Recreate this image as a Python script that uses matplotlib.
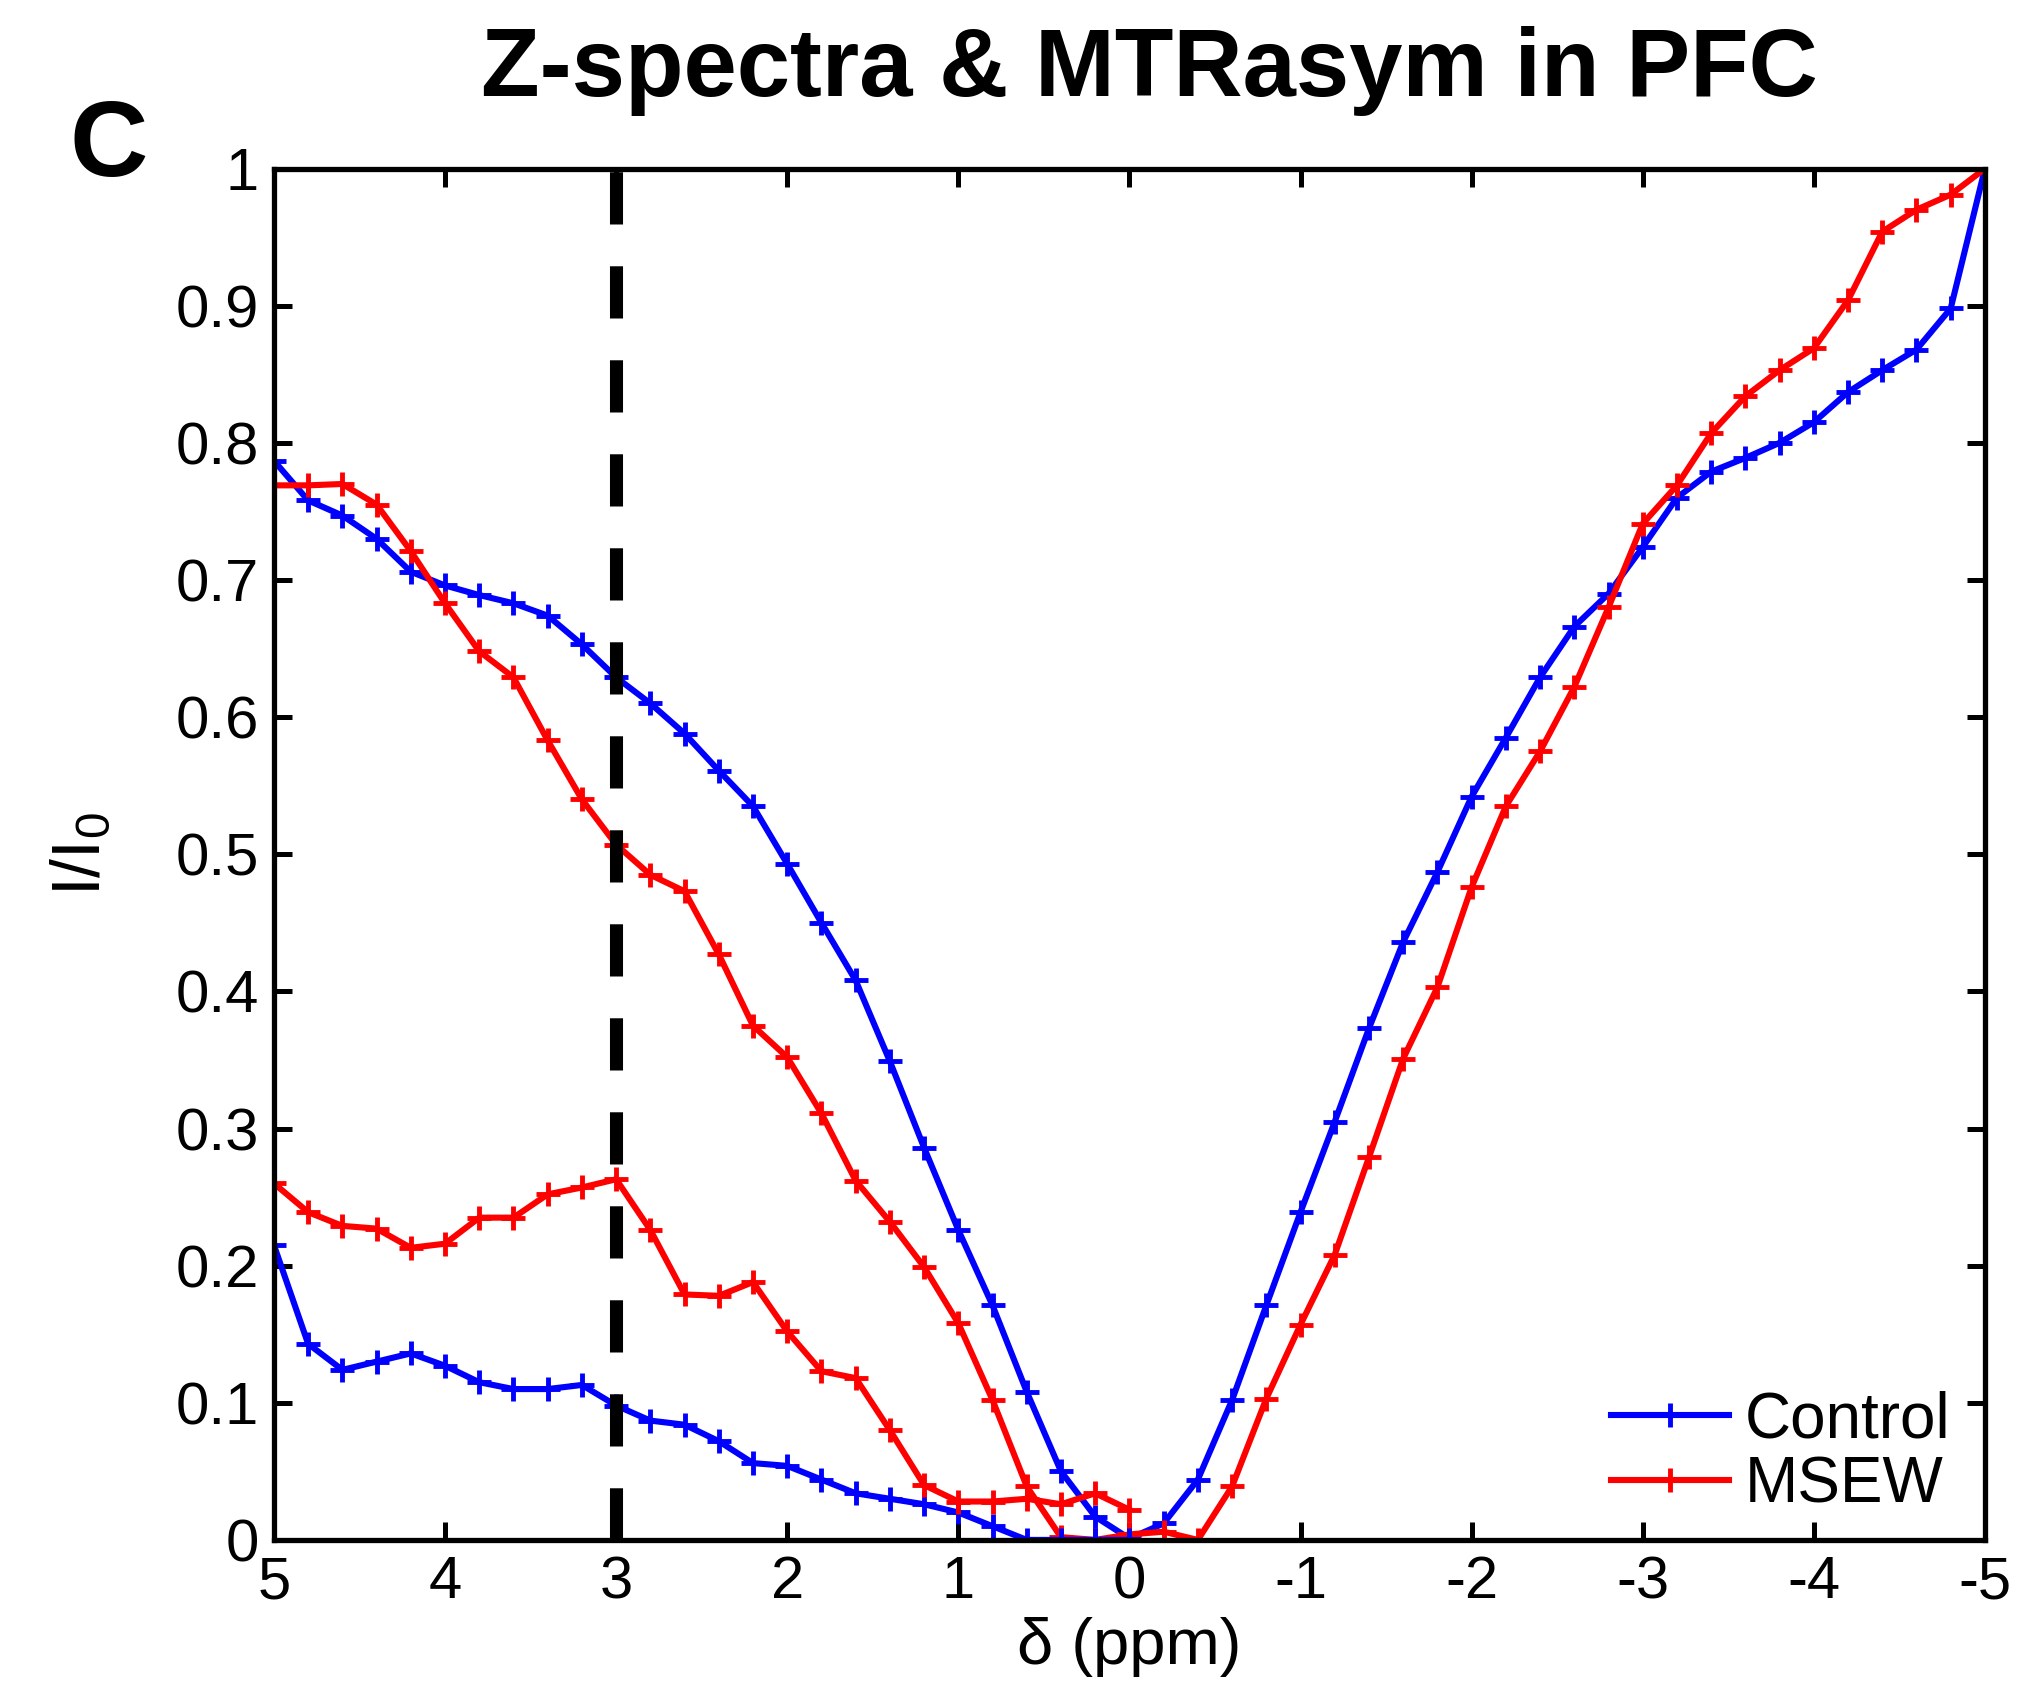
import matplotlib
matplotlib.use('Agg')
import matplotlib.pyplot as plt

# offsets (ppm), full Z-spectrum from +5 to -5
OFFSETS = [5.0, 4.8, 4.6, 4.4, 4.2, 4.0, 3.8, 3.6, 3.4, 3.2, 3.0, 2.8, 2.6, 2.4, 2.2, 2.0,
           1.8, 1.6, 1.4, 1.2, 1.0, 0.8, 0.6, 0.4, 0.2, 0.0, -0.2, -0.4, -0.6, -0.8, -1.0,
           -1.2, -1.4, -1.6, -1.8, -2.0, -2.2, -2.4, -2.6, -2.8, -3.0, -3.2, -3.4, -3.6,
           -3.8, -4.0, -4.2, -4.4, -4.6, -4.8, -5.0]

control_z = [0.787, 0.758, 0.747, 0.730, 0.706, 0.696, 0.689, 0.683, 0.674, 0.653, 0.629,
             0.610, 0.588, 0.561, 0.535, 0.493, 0.450, 0.408, 0.349, 0.286, 0.226, 0.171,
             0.108, 0.050, 0.017, 0.001, 0.012, 0.044, 0.102, 0.171, 0.239, 0.305, 0.373,
             0.436, 0.487, 0.542, 0.585, 0.629, 0.666, 0.690, 0.724, 0.760, 0.779, 0.789,
             0.800, 0.815, 0.837, 0.853, 0.868, 0.898, 1.000]

msew_z = [0.769, 0.769, 0.770, 0.755, 0.721, 0.683, 0.648, 0.629, 0.583, 0.540, 0.507,
          0.485, 0.473, 0.427, 0.375, 0.352, 0.311, 0.262, 0.232, 0.199, 0.158, 0.102,
          0.039, 0.002, 0.000, 0.004, 0.006, 0.000, 0.039, 0.103, 0.157, 0.208, 0.279,
          0.351, 0.403, 0.476, 0.535, 0.575, 0.622, 0.680, 0.741, 0.769, 0.807, 0.834,
          0.853, 0.869, 0.904, 0.954, 0.970, 0.981, 1.000]

# MTRasym only on the positive side (5 -> 0 ppm)
ASYM_OFFSETS = OFFSETS[:26]

control_asym = [0.215, 0.143, 0.124, 0.130, 0.136, 0.127, 0.115, 0.110, 0.110, 0.113,
                0.098, 0.087, 0.084, 0.072, 0.056, 0.054, 0.044, 0.034, 0.030, 0.026,
                0.020, 0.010, 0.000, 0.000, 0.000, 0.000]

msew_asym = [0.260, 0.239, 0.229, 0.227, 0.213, 0.216, 0.235, 0.235, 0.252, 0.257,
             0.263, 0.226, 0.179, 0.178, 0.188, 0.152, 0.123, 0.118, 0.080, 0.040,
             0.028, 0.028, 0.030, 0.026, 0.034, 0.022]

XTICKS = [5, 4, 3, 2, 1, 0, -1, -2, -3, -4, -5]
XTICKLABELS = ['5', '4', '3', '2', '1', '0', '-1', '-2', '-3', '-4', '-5']
YTICKS = [0, 0.1, 0.2, 0.3, 0.4, 0.5, 0.6, 0.7, 0.8, 0.9, 1]
YTICKLABELS = ['0', '0.1', '0.2', '0.3', '0.4', '0.5', '0.6', '0.7', '0.8', '0.9', '1']

plt.rcParams['font.family'] = ['Liberation Sans', 'DejaVu Sans']
plt.rcParams['mathtext.fontset'] = 'custom'
plt.rcParams['mathtext.rm'] = 'Liberation Sans'

fig = plt.figure(figsize=(20.17, 17.01), dpi=100)
ax = fig.add_axes([0.1358, 0.0947, 0.8483, 0.8062])

style = dict(marker='+', markersize=17, markeredgewidth=3.5, linewidth=4.4)
ax.plot(OFFSETS, control_z, color='#0000ff', label='Control', **style)
ax.plot(OFFSETS, msew_z, color='#ff0000', label='MSEW', **style)
ax.plot(ASYM_OFFSETS, control_asym, color='#0000ff', **style)
ax.plot(ASYM_OFFSETS, msew_asym, color='#ff0000', **style)

# 3 ppm marker
ax.plot([3, 3], [0, 1], color='black', linewidth=9.4, dashes=(4, 3.2), zorder=5)

ax.set_xlim(5, -5)
ax.set_ylim(0, 1)
ax.set_xticks(XTICKS)
ax.set_xticklabels(XTICKLABELS)
ax.set_yticks(YTICKS)
ax.set_yticklabels(YTICKLABELS)
ax.tick_params(direction='in', length=13, width=3.6, labelsize=43, pad=11,
               top=True, right=True)
for sp in ax.spines.values():
    sp.set_linewidth(3.8)

ax.set_xlabel('δ (ppm)', fontsize=47, va='center')
ax.xaxis.set_label_coords(0.5, -0.078)
ax.set_ylabel(r'$\mathregular{I/I_0}$', fontsize=49, ha='center', va='center')
ax.yaxis.set_label_coords(-0.112, 0.5)

ax.legend(loc='lower right', bbox_to_anchor=(0.98, 0.018), frameon=False,
          fontsize=46, handlelength=1.85, handletextpad=0.25, labelspacing=0.08,
          borderaxespad=0, borderpad=0)

fig.text(0.5697, 0.958, 'Z-spectra & MTRasym in PFC', ha='center', va='center',
         fontsize=69, fontweight='bold')
fig.text(0.054, 0.913, 'C', ha='center', va='center', fontsize=78, fontweight='bold')

fig.savefig('out.png', dpi=100)
